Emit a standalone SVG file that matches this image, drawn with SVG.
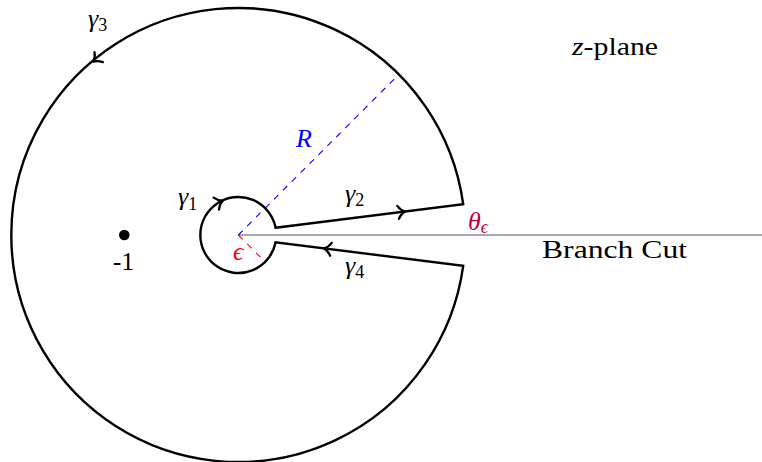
<svg xmlns="http://www.w3.org/2000/svg" width="762" height="462" viewBox="0 0 762 462">
<style>
.t{font-family:"Liberation Serif","DejaVu Serif",serif;font-size:26px}
.k{fill:#000}
.m{font-style:italic}
.sub{font-size:18px;font-style:normal}
.blue{fill:#0000ff}
.red{fill:#ff0000}
.pur{fill:#bf0040}
.c{fill:none;stroke:#000;stroke-width:2.4;stroke-linejoin:miter}
.ah{fill:none;stroke:#000;stroke-width:2.3;stroke-linecap:round;stroke-linejoin:round}
</style>
<defs>
<path id="arr" class="ah" d="M -7 -6.5 C -5 -3 -2 -0.8 0 0 C -2 0.8 -5 3 -7 6.5"/>
</defs>
<rect width="762" height="462" fill="#fff"/>
<g id="branch-cut-line">
<line x1="238.3" y1="235" x2="762" y2="235" stroke="#555" stroke-width="1.1"/>
</g>
<g id="radius-lines">
<line x1="238.3" y1="235" x2="398.8" y2="74.5" stroke="#0000ff" stroke-width="1.1" stroke-dasharray="6.3 6.3"/>
<line x1="238.3" y1="235" x2="265" y2="261.7" stroke="#ff0000" stroke-width="1.1" stroke-dasharray="6.3 6.3"/>
</g>
<g id="connectors">
<path id="contour" class="c" d="M 275.6 227.7 L 463.2 204.2 A 227 227 0 1 0 463.2 265.8 L 275.6 242.3 A 38 38 0 1 1 275.6 227.7 Z"/>
<use href="#arr" transform="translate(222.7 200.7) rotate(-24.5)"/>
<use href="#arr" transform="translate(405 211.5) rotate(-7.14)"/>
<use href="#arr" transform="translate(324 248.4) rotate(187.14)"/>
<use href="#arr" transform="translate(93.3 61.7) rotate(140.1)"/>
</g>
<g id="point-minus-1">
<circle cx="124.3" cy="235" r="5.3" fill="#000"/>
<text class="t k" x="123.5" y="270" text-anchor="middle">-1</text>
</g>
<g id="labels">
<text class="t k m" x="178" y="205">γ<tspan class="sub" dy="5">1</tspan></text>
<text class="t k m" x="345" y="202">γ<tspan class="sub" dy="4">2</tspan></text>
<text class="t k m" x="88" y="27">γ<tspan class="sub" dy="4">3</tspan></text>
<text class="t k m" x="345" y="274">γ<tspan class="sub" dy="4">4</tspan></text>
<text class="t pur m" x="468" y="230">θ<tspan font-size="18" dy="3">ϵ</tspan></text>
<text class="t red m" x="233" y="260">ϵ</text>
<text class="t blue m" x="296" y="147">R</text>
<text class="t k" x="572" y="55" textLength="86" lengthAdjust="spacingAndGlyphs"><tspan class="m">z</tspan>-plane</text>
<text class="t k" x="542" y="258" textLength="145" lengthAdjust="spacingAndGlyphs">Branch Cut</text>
</g>
</svg>
